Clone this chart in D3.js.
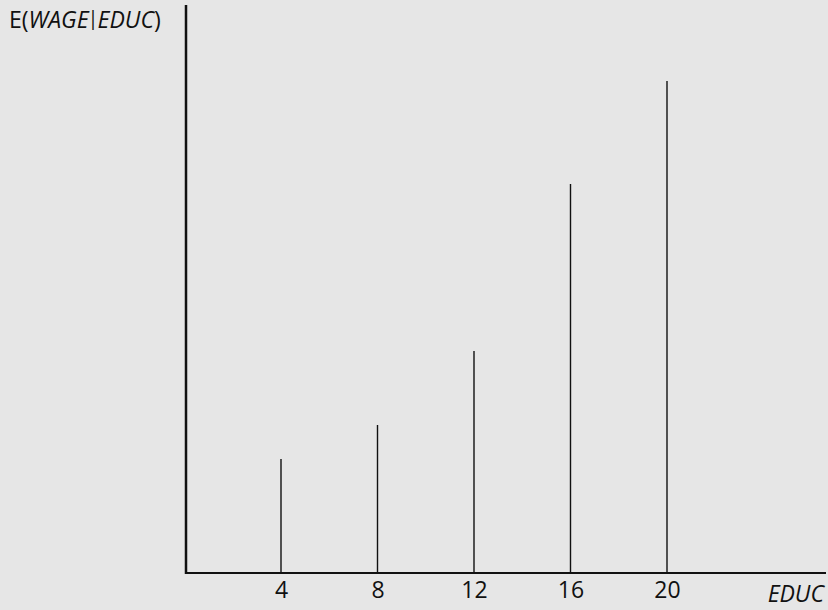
<!DOCTYPE html>
<html>
<head>
<meta charset="utf-8">
<script src="https://cdnjs.cloudflare.com/ajax/libs/d3/7.8.5/d3.min.js"></script>
<style>
  body { margin: 0; background: #e6e6e6; }
  svg { display: block; font-family: "Open Sans", "Noto Sans", sans-serif; }
</style>
</head>
<body>
<svg></svg>
<script>
// Data
const educ = [4, 8, 12, 16, 20];
const wage = [114, 148, 222, 389, 492]; // E(WAGE|EDUC), arbitrary units
const xTicks = [4, 8, 12, 16, 20];

const w = 828;
const h = 610;
const x0 = 186;
const y0 = 573;

const xScale = d3.scaleLinear().domain([0, 20]).range([184.5, 667]);
const yScale = d3.scaleLinear().domain([0, 568]).range([y0, 5]);

const chart = d3.select("svg")
  .attr("width", w)
  .attr("height", h);

chart.append("rect")
  .attr("width", w).attr("height", h)
  .attr("fill", "#e6e6e6");

// Stems
chart.selectAll(".stem")
  .data(educ)
  .enter()
  .append("line")
  .classed("stem", true)
  .attr("x1", (d) => xScale(d))
  .attr("x2", (d) => xScale(d))
  .attr("y1", yScale(0))
  .attr("y2", (d, i) => yScale(wage[i]))
  .attr("stroke", "#111")
  .attr("stroke-width", 1.4);

// Axes
const xAxis = d3.axisBottom(xScale)
  .tickValues(xTicks)
  .tickSize(0)
  .tickPadding(9);

const gx = chart.append("g")
  .attr("transform", "translate(0," + y0 + ")")
  .call(xAxis);
gx.select(".domain").remove();
gx.selectAll("text")
  .attr("font-size", 23)
  .attr("font-family", "Open Sans, Noto Sans, sans-serif")
  .attr("fill", "#111");

chart.append("line")
  .attr("x1", x0 - 1).attr("x2", 826)
  .attr("y1", y0).attr("y2", y0)
  .attr("stroke", "#111").attr("stroke-width", 2.2);

chart.append("line")
  .attr("x1", x0).attr("x2", x0)
  .attr("y1", 5).attr("y2", y0 + 1)
  .attr("stroke", "#111").attr("stroke-width", 2.5);

// Labels
const yLabel = chart.append("text")
  .attr("x", 9)
  .attr("y", 28)
  .attr("font-size", 23)
  .attr("fill", "#111");
yLabel.append("tspan").text("E(");
yLabel.append("tspan").attr("font-style", "italic").text("WAGE");
yLabel.append("tspan").attr("font-size", 20).attr("dx", -1).attr("dy", -3).text("|");
yLabel.append("tspan").attr("font-style", "italic").attr("dx", -1).attr("dy", 3).text("EDUC");
yLabel.append("tspan").text(")");

chart.append("text")
  .attr("x", 824)
  .attr("y", 602)
  .attr("text-anchor", "end")
  .attr("font-size", 23)
  .attr("font-style", "italic")
  .attr("fill", "#111")
  .text("EDUC");
</script>
</body>
</html>
